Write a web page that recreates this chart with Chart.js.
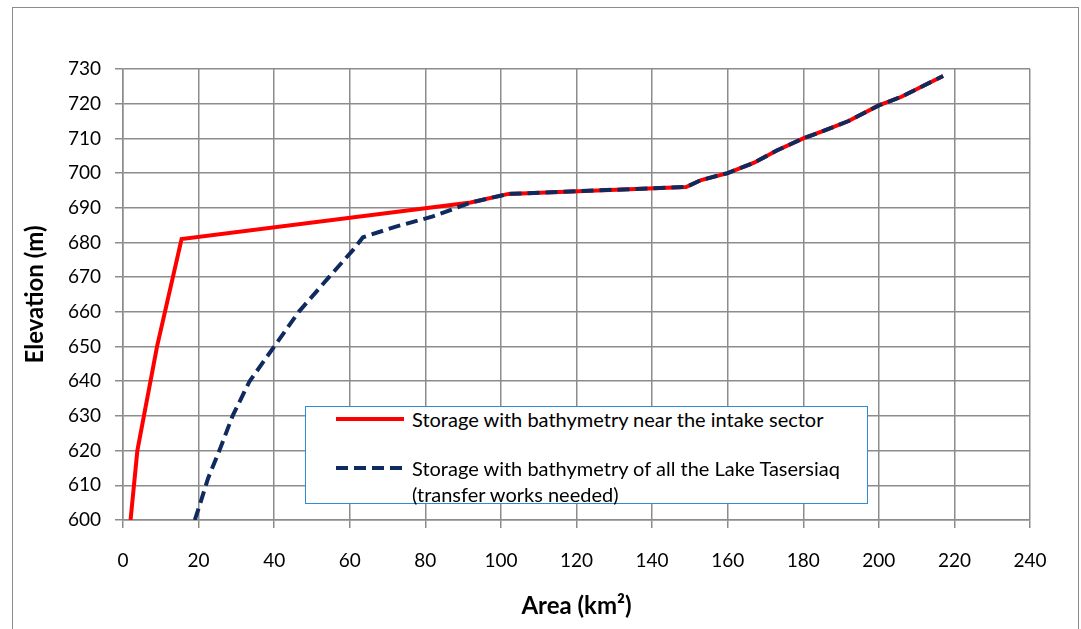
<!DOCTYPE html>
<html>
<head>
<meta charset="utf-8">
<script src="https://cdn.jsdelivr.net/npm/chart.js@4.4.0/dist/chart.umd.min.js"></script>
<style>
  body { margin: 0; background: #fff; font-family: Lato, sans-serif; }
  #frame { position: absolute; left: 12px; top: 7px; width: 1065px; height: 640px; border: 1.5px solid #8c8c8c; }
  #chart { position: absolute; left: 0; top: 0; }
  #legend { position: absolute; left: 305px; top: 406px; width: 561px; height: 96px;
            border: 1.5px solid #2e8bd6; background: #fff; font-size: 20px; color: #000; }
  .item { position: absolute; left: 28px; display: flex; align-items: flex-start; line-height: 26px; white-space: nowrap; }
  .item svg { margin-right: 6px; margin-top: 8px; }
</style>
</head>
<body>
<div id="frame"></div>
<canvas id="chart" width="1081" height="629"></canvas>
<div id="legend">
  <div class="item" style="top:-1px">
    <svg width="72" height="10"><line x1="2" y1="5" x2="70" y2="5" stroke="#ff0000" stroke-width="4"/></svg>
    <span>Storage with bathymetry near the intake sector</span>
  </div>
  <div class="item" style="top:48px">
    <svg width="72" height="10"><line x1="2" y1="5" x2="70" y2="5" stroke="#0f2a5f" stroke-width="4" stroke-dasharray="12,6"/></svg>
    <span>Storage with bathymetry of all the Lake Tasersiaq<br>(transfer works needed)</span>
  </div>
</div>
<script>
// Data
const intakeArea = [2, 3.8, 9, 15.5, 92, 102, 149, 153, 160, 167, 173, 180, 185, 192, 200, 206, 217];
const intakeElev = [600, 620, 650, 681, 691.5, 694, 696, 698, 700, 703, 706.5, 710, 712, 715, 719.5, 722, 728];

const lakeArea = [19, 20.5, 22.5, 25.5, 29, 33.5, 40, 46.5, 54.5, 61, 63.5, 72, 82, 92, 102, 149, 153, 160, 167, 173, 180, 185, 192, 200, 206, 217];
const lakeElev = [600, 605, 612, 620, 630, 640, 650, 660, 670, 678, 681.5, 684.5, 687.5, 691.5, 694, 696, 698, 700, 703, 706.5, 710, 712, 715, 719.5, 722, 728];

const seriesLabels = ['Storage with bathymetry near the intake sector',
                      'Storage with bathymetry of all the Lake Tasersiaq (transfer works needed)'];

const toPoints = (xs, ys) => xs.map((x, i) => ({x: x, y: ys[i]}));

const gridColor = '#8c8c8c';
const tickFont = {family: 'Lato', size: 19};
const titleFont = {family: 'Lato', size: 24, weight: 'bold'};

new Chart(document.getElementById('chart').getContext('2d'), {
  type: 'scatter',
  data: {
    datasets: [
      {
        label: seriesLabels[0],
        data: toPoints(intakeArea, intakeElev),
        showLine: true,
        borderColor: '#ff0000',
        borderWidth: 4,
        pointRadius: 0,
        tension: 0,
        order: 2
      },
      {
        label: seriesLabels[1],
        data: toPoints(lakeArea, lakeElev),
        showLine: true,
        borderColor: '#0f2a5f',
        borderWidth: 4,
        borderDash: [12, 6],
        pointRadius: 0,
        tension: 0,
        order: 1
      }
    ]
  },
  options: {
    responsive: false,
    animation: false,
    layout: {padding: {left: 17, right: 51, top: 69, bottom: 4}},
    plugins: {legend: {display: false}, tooltip: {enabled: false}},
    scales: {
      x: {
        type: 'linear',
        min: 0, max: 240,
        ticks: {stepSize: 20, color: '#000', font: tickFont, padding: 21},
        grid: {color: gridColor, lineWidth: 1.5, tickLength: 8},
        border: {color: gridColor, width: 1.5},
        title: {display: true, text: 'Area (km²)', color: '#000', font: titleFont},
        afterFit: s => { s.height = 105; }
      },
      y: {
        min: 600, max: 730,
        ticks: {stepSize: 10, color: '#000', font: tickFont, padding: 14},
        grid: {color: gridColor, lineWidth: 1.5, tickLength: 8},
        border: {color: gridColor, width: 1.5},
        title: {display: true, text: 'Elevation (m)', color: '#000', font: titleFont},
        afterFit: s => { s.width = 106; }
      }
    }
  }
});
</script>
</body>
</html>
